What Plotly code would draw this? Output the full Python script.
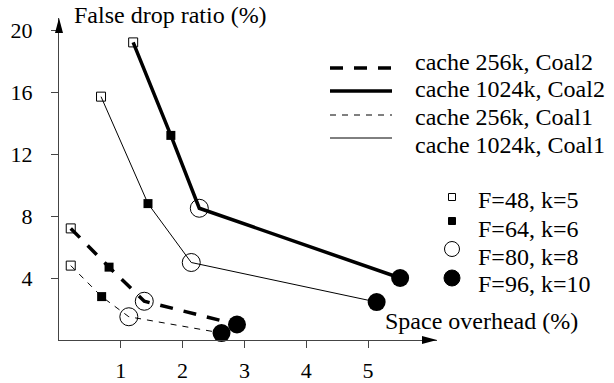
import plotly.graph_objects as go

# ---------------- data ----------------
series_names = ["cache 256k, Coal2", "cache 1024k, Coal2", "cache 256k, Coal1", "cache 1024k, Coal1"]
x_256_coal2 = [0.19, 0.81, 1.38, 2.88]
y_256_coal2 = [7.2, 4.7, 2.5, 1.0]
x_1024_coal2 = [1.20, 1.81, 2.27, 5.52]
y_1024_coal2 = [19.2, 13.2, 8.5, 4.0]
x_256_coal1 = [0.19, 0.69, 1.13, 2.63]
y_256_coal1 = [4.8, 2.8, 1.5, 0.45]
x_1024_coal1 = [0.68, 1.44, 2.14, 5.14]
y_1024_coal1 = [15.7, 8.8, 5.0, 2.45]
param_labels = ["F=48, k=5", "F=64, k=6", "F=80, k=8", "F=96, k=10"]
x_ticks = [1, 2, 3, 4, 5]
y_ticks = [4, 8, 12, 16, 20]

xs = [x_256_coal2, x_1024_coal2, x_256_coal1, x_1024_coal1]
ys = [y_256_coal2, y_1024_coal2, y_256_coal1, y_1024_coal1]

# ---------------- styles ----------------
FONT = "Liberation Serif, Times New Roman, serif"
line_styles = [
    dict(width=3.5, dash="13px,11px"),
    dict(width=3.5, dash="solid"),
    dict(width=1, dash="6px,6px"),
    dict(width=1, dash="solid"),
]
marker_styles = [
    dict(symbol="square-open", size=9, color="black", line=dict(width=1, color="black")),
    dict(symbol="square", size=9, color="black", line=dict(width=0)),
    dict(symbol="circle-open", size=18, color="black", line=dict(width=1, color="black")),
    dict(symbol="circle", size=18, color="black", line=dict(width=0)),
]

# plot-area pixel frame
L, R, T, B = 59, 437, 18, 340
W, H = 614, 383
XMAX = (R - L) / 61.8
YMAX = (B - T) / 15.5


def px(x):
    return (x - L) / (R - L)


def py(y):
    return (B - y) / (B - T)


fig = go.Figure()
for xv, yv, st, nm in zip(xs, ys, line_styles, series_names):
    fig.add_trace(go.Scatter(x=xv, y=yv, mode="lines", name=nm,
                             line=dict(color="black", width=st["width"], dash=st["dash"]),
                             showlegend=False, hoverinfo="skip"))
for i, (lab, ms) in enumerate(zip(param_labels, marker_styles)):
    fig.add_trace(go.Scatter(x=[s[i] for s in xs], y=[s[i] for s in ys], mode="markers",
                             name=lab, marker=ms, showlegend=False, cliponaxis=False))

shapes = []
annotations = []

# axis arrowheads (paper coordinates)
shapes.append(dict(type="path", xref="paper", yref="paper",
                   path=f"M{px(R)},{py(B)} L{px(R-15)},{py(B-4)} L{px(R-15)},{py(B+4)} Z",
                   fillcolor="black", line=dict(width=0)))
shapes.append(dict(type="path", xref="paper", yref="paper",
                   path=f"M{px(L)},{py(T)} L{px(L-4)},{py(T+15)} L{px(L+4)},{py(T+15)} Z",
                   fillcolor="black", line=dict(width=0)))

# line legend
leg_line_y = [68, 91, 115, 138]
leg_text_y = [62, 89, 117, 145]
for nm, st, ly, ty in zip(series_names, line_styles, leg_line_y, leg_text_y):
    shapes.append(dict(type="line", xref="paper", yref="paper", x0=px(330), x1=px(392),
                       y0=py(ly), y1=py(ly), line=dict(color="black", width=st["width"], dash=st["dash"])))
    annotations.append(dict(text=nm, xref="paper", yref="paper", x=px(413), y=py(ty),
                            xanchor="left", yanchor="middle", showarrow=False,
                            font=dict(family=FONT, size=24, color="black")))

# symbol legend
sym_y = [197, 221, 249, 278]
sym_text_y = [200, 229, 257, 284]
sym_sizes = [7, 7, 15, 16]
for i, (lab, my, ty, sz) in enumerate(zip(param_labels, sym_y, sym_text_y, sym_sizes)):
    hx, hy = sz / 2 / (R - L), sz / 2 / (B - T)
    cx, cy = px(452), py(my)
    typ = "rect" if i < 2 else "circle"
    filled = i in (1, 3)
    shapes.append(dict(type=typ, xref="paper", yref="paper", x0=cx - hx, x1=cx + hx,
                       y0=cy - hy, y1=cy + hy, fillcolor="black" if filled else "white",
                       line=dict(color="black", width=1)))
    annotations.append(dict(text=lab, xref="paper", yref="paper", x=px(476), y=py(ty),
                            xanchor="left", yanchor="middle", showarrow=False,
                            font=dict(family=FONT, size=24, color="black")))

# axis titles
annotations.append(dict(text="False drop ratio (%)", xref="paper", yref="paper", x=px(72), y=py(15),
                        xanchor="left", yanchor="middle", showarrow=False,
                        font=dict(family=FONT, size=24, color="black")))
annotations.append(dict(text="Space overhead (%)", xref="paper", yref="paper", x=px(383), y=py(321),
                        xanchor="left", yanchor="middle", showarrow=False,
                        font=dict(family=FONT, size=24, color="black")))

fig.update_layout(
    width=W, height=H,
    margin=dict(l=L, r=W - R, t=T, b=H - B, autoexpand=False),
    paper_bgcolor="white", plot_bgcolor="white",
    shapes=shapes, annotations=annotations,
    font=dict(family=FONT, size=22, color="black"),
    xaxis=dict(range=[0, XMAX], tickvals=x_ticks, ticktext=[str(v) for v in x_ticks],
               showgrid=False, zeroline=False, showline=True, linecolor="#444", linewidth=1,
               ticks="outside", ticklen=7, tickcolor="#444", tickwidth=1, automargin=False,
               ticklabelstandoff=4, tickfont=dict(family=FONT, size=22, color="black")),
    yaxis=dict(range=[0, YMAX], tickvals=y_ticks, ticktext=[str(v) for v in y_ticks],
               showgrid=False, zeroline=False, showline=True, linecolor="#444", linewidth=1,
               ticks="outside", ticklen=7, tickcolor="#444", tickwidth=1, automargin=False,
               ticklabelstandoff=14, tickfont=dict(family=FONT, size=22, color="black")),
    showlegend=False,
)

fig.write_html("out.html")
